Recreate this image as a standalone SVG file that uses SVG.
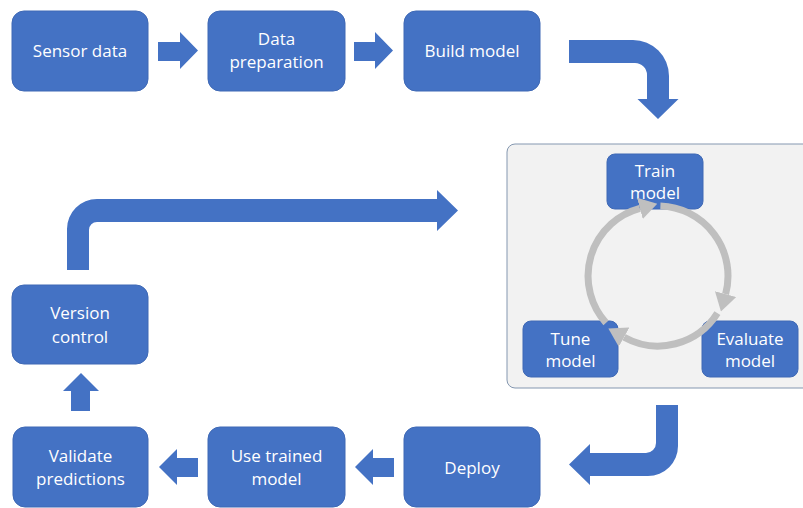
<svg xmlns="http://www.w3.org/2000/svg" width="803" height="508" viewBox="0 0 803 508">
<style>
.box{fill:#4472c4;stroke:#3f69b5;stroke-width:1}
.t{font-family:"Open Sans","Liberation Sans",sans-serif;font-size:17px;fill:#ffffff;text-anchor:middle}
.blk{fill:#4472c4}
.cyc{fill:none;stroke:#bfbfbf;stroke-width:7}
</style>
<defs>
<marker id="gh" markerUnits="userSpaceOnUse" markerWidth="18" markerHeight="22" viewBox="0 0 18 22" refX="0" refY="11" orient="auto">
<path d="M0,0 L18,11 L0,22 Z" fill="#bfbfbf"/>
</marker>
</defs>
<rect width="803" height="508" fill="#ffffff"/>
<g id="container">
<rect x="507" y="144" width="304" height="244" rx="8" fill="#f2f2f2" stroke="#8497b0" stroke-width="1"/>
</g>
<g id="n-sensor"><rect class="box" x="12" y="11" width="136" height="80" rx="12"/><text class="t" x="80" y="57">Sensor data</text></g>
<g id="n-prep"><rect class="box" x="208" y="11" width="137" height="80" rx="12"/><text class="t" x="276.5" y="45">Data</text><text class="t" x="276.5" y="68">preparation</text></g>
<g id="n-build"><rect class="box" x="404" y="11" width="136" height="80" rx="12"/><text class="t" x="472" y="57">Build model</text></g>
<g id="n-train"><rect class="box" x="607" y="154" width="96" height="55" rx="8"/><text class="t" x="655" y="177">Train</text><text class="t" x="655" y="199">model</text></g>
<g id="n-tune"><rect class="box" x="523" y="321" width="95" height="56" rx="8"/><text class="t" x="570.5" y="345">Tune</text><text class="t" x="570.5" y="367">model</text></g>
<g id="n-eval"><rect class="box" x="702" y="321" width="96" height="56" rx="8"/><text class="t" x="750" y="345">Evaluate</text><text class="t" x="750" y="367">model</text></g>
<g id="n-version"><rect class="box" x="12" y="285" width="136" height="79" rx="12"/><text class="t" x="80" y="319">Version</text><text class="t" x="80" y="343">control</text></g>
<g id="n-validate"><rect class="box" x="13" y="427" width="135" height="80" rx="12"/><text class="t" x="80.5" y="462">Validate</text><text class="t" x="80.5" y="485">predictions</text></g>
<g id="n-use"><rect class="box" x="208" y="427" width="137" height="80" rx="12"/><text class="t" x="276.5" y="462">Use trained</text><text class="t" x="276.5" y="485">model</text></g>
<g id="n-deploy"><rect class="box" x="404" y="427" width="136" height="80" rx="12"/><text class="t" x="472" y="474">Deploy</text></g>
<g id="connectors">
<path class="blk" d="M158,42 H180 V32 L198,50.5 L180,69 V61 H158 Z"/>
<path class="blk" d="M354,42 H375 V32 L393,50.5 L375,69 V61 H354 Z"/>
<path class="blk" d="M569,40 H633 A36,36 0 0 1 669,76 V99 H678.5 L658,119 L637.5,99 H647 V75 A12,12 0 0 0 635,63 H569 Z"/>
<path class="blk" d="M656,405 H678 V446 A30,30 0 0 1 648,476 H590 V485 L569,464.5 L590,444 V453 H646 A10,10 0 0 0 656,443 Z"/>
<path class="blk" d="M394,458 H373 V449 L355,467 L373,485 V477 H394 Z"/>
<path class="blk" d="M198,458 H177 V449 L159,467 L177,485 V477 H198 Z"/>
<path class="blk" d="M71,411 V391 H63 L81,373 L99,391 H90 V411 Z"/>
<path class="blk" d="M67,270 V229 A30,30 0 0 1 97,199 H437 V190 L458,210.5 L437,231 V222 H97 A8,8 0 0 0 89,230 V270 Z"/>
</g>
<g id="cycle">
<path class="cyc" marker-end="url(#gh)" d="M660.4,206.0 A70,70 0 0 1 725.6,294.1"/>
<path class="cyc" marker-end="url(#gh)" d="M717.4,313.1 A70,70 0 0 1 624.1,337.2"/>
<path class="cyc" marker-end="url(#gh)" d="M606.0,322.8 A70,70 0 0 1 639.9,208.4"/>
</g>
</svg>
